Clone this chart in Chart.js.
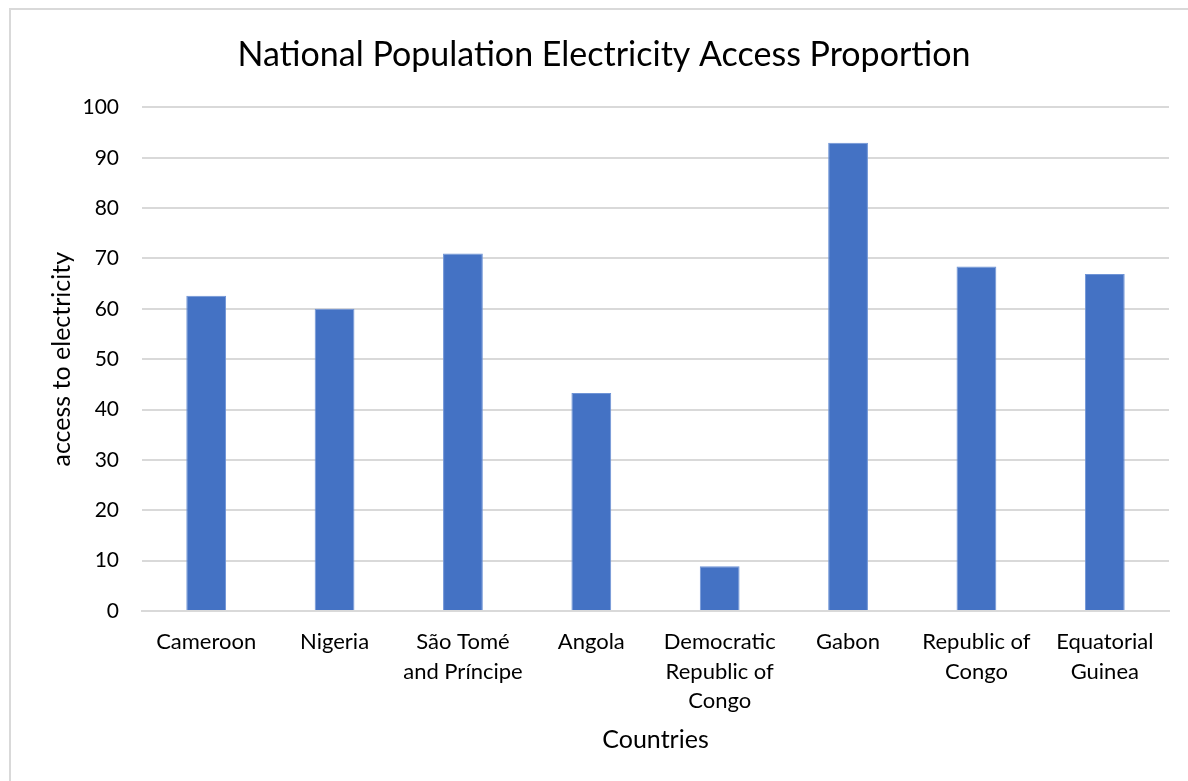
<!DOCTYPE html>
<html>
<head>
<meta charset="utf-8">
<script src="https://cdn.jsdelivr.net/npm/chart.js@4"></script>
<style>
  html, body { margin: 0; padding: 0; background: #fff; overflow: hidden; }
  .frame {
    position: absolute; left: 9px; top: 8px; width: 1300px; height: 900px;
    border: 2px solid #d9d9d9;
  }
  .wrap { position: absolute; left: 0; top: 0; width: 1188px; height: 781px; }
</style>
</head>
<body>
<div class="frame"></div>
<div class="wrap"><canvas id="barChart"></canvas></div>
<script>
const countries = [
  "Cameroon", ["Nigeria"], ["São Tomé", "and Príncipe"], "Angola",
  ["Democratic", "Republic of", "Congo"], "Gabon", ["Republic of", "Congo"], ["Equatorial", "Guinea"]
];
const access = [62.6, 60.0, 71.0, 43.3, 8.9, 93.0, 68.4, 66.9];
const yTicks = [0, 10, 20, 30, 40, 50, 60, 70, 80, 90, 100];

const ctx = document.getElementById("barChart");
const fontFamily = "Lato, 'Open Sans', sans-serif";

// Initialize the bar chart
const barChart = new Chart(ctx, {
  type: 'bar',
  data: {
    labels: countries,
    datasets: [{
      label: 'access to electricity',
      data: access,
      backgroundColor: '#4472C4',
      borderColor: '#6f94d6',
      borderWidth: 1,
      categoryPercentage: 1,
      barPercentage: 0.31
    }]
  },
  options: {
    responsive: true,
    maintainAspectRatio: false,
    animation: false,
    layout: { padding: { left: 39, right: 19, top: 0, bottom: 0 } },
    plugins: {
      legend: { display: false },
      tooltip: { enabled: false },
      title: {
        display: true,
        text: 'National Population Electricity Access Proportion',
        color: '#000',
        font: { family: fontFamily, size: 34, weight: 'normal', lineHeight: 1.2 },
        padding: { top: 35, bottom: 31.6 }
      }
    },
    scales: {
      x: {
        grid: { display: false, drawTicks: false },
        border: { display: true, color: '#d9d9d9', width: 2 },
        ticks: {
          color: '#000',
          padding: 16,
          maxRotation: 0,
          autoSkip: false,
          font: { family: fontFamily, size: 22, lineHeight: 1.35 }
        },
        title: {
          display: true,
          text: 'Countries',
          color: '#000',
          font: { family: fontFamily, size: 25, lineHeight: 1.2 },
          padding: { top: 0, bottom: 26 }
        },
        afterFit: scale => { scale.height = 170; }
      },
      y: {
        min: 0,
        max: 100,
        afterBuildTicks: scale => { scale.ticks = yTicks.map(v => ({ value: v })); },
        grid: { color: '#d9d9d9', lineWidth: 2, drawTicks: false },
        border: { display: false },
        ticks: {
          color: '#000',
          padding: 23,
          font: { family: fontFamily, size: 21 }
        },
        title: {
          display: true,
          text: 'access to electricity',
          color: '#000',
          font: { family: fontFamily, size: 25, lineHeight: 1.2 },
          padding: { top: 8, bottom: 0 }
        },
        afterFit: scale => { scale.width = 103; }
      }
    }
  }
});
</script>
</body>
</html>
